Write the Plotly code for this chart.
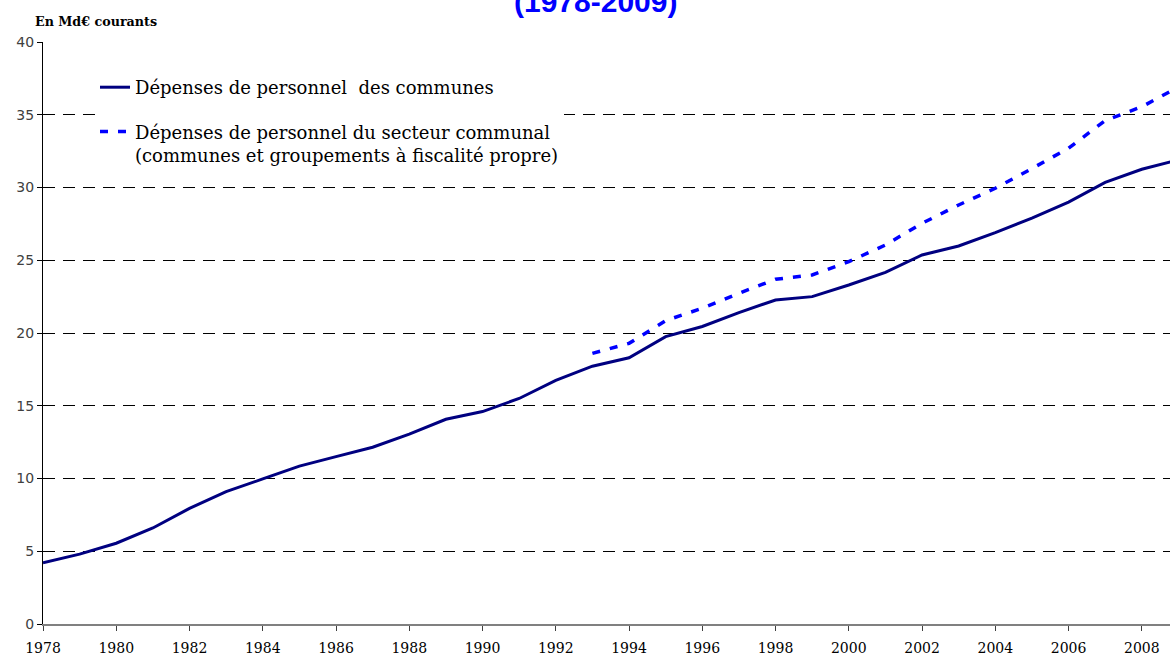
import plotly.graph_objects as go

years = list(range(1978, 2010))
communes = [4.2, 4.8, 5.55, 6.6, 7.95, 9.1, 9.97, 10.85, 11.5, 12.15, 13.05, 14.07,
            14.6, 15.5, 16.75, 17.72, 18.3, 19.75, 20.45, 21.4, 22.27, 22.5, 23.3,
            24.17, 25.36, 25.98, 26.9, 27.9, 29.0, 30.35, 31.25, 31.9]
years_sc = list(range(1993, 2010))
secteur = [18.6, 19.29, 20.85, 21.7, 22.73, 23.69, 23.99, 24.9, 26.05, 27.54, 28.8,
           29.95, 31.3, 32.7, 34.6, 35.55, 36.9]
xticks = list(range(1978, 2009, 2))
yticks = [0, 5, 10, 15, 20, 25, 30, 35, 40]

name1 = "Dépenses de personnel\u00a0 des communes"
name2 = "Dépenses de personnel du secteur communal<br>(communes et groupements à fiscalité propre)"

fig = go.Figure()
fig.add_trace(go.Scatter(x=years, y=communes, mode="lines", name=name1,
                         legendgroup="a",
                         line=dict(color="#000080", width=3)))
fig.add_trace(go.Scatter(x=years_sc, y=secteur, mode="lines", name=name2,
                         legendgroup="b",
                         line=dict(color="#0000FF", width=3.5, dash="8px,10px")))

W, H = 1170, 657
ml, mr, mt, mb = 43, 0, 42, 33
pw = W - ml - mr
ph = H - mt - mb

def px(p):
    return (p - ml) / pw

def py(p):
    return (H - mb - p) / ph

fig.update_layout(
    width=W, height=H,
    margin=dict(l=ml, r=mr, t=mt, b=mb, pad=0, autoexpand=False),
    paper_bgcolor="white", plot_bgcolor="white",
    showlegend=True,
    legend=dict(x=px(95), y=py(69), xanchor="left", yanchor="top",
                bgcolor="white", borderwidth=0, valign="top",
                traceorder="grouped", tracegroupgap=18,
                font=dict(family="DejaVu Serif", size=18, color="black")),
    xaxis=dict(range=[1978, 2008.77], tickmode="array", tickvals=xticks,
               ticktext=[str(t) for t in xticks], automargin=False,
               showgrid=False, zeroline=False,
               showline=True, linecolor="#808080", linewidth=1.5,
               ticks="outside", ticklen=5, tickcolor="#404040",
               ticklabelstandoff=5,
               tickfont=dict(family="DejaVu Serif", size=14, color="black")),
    yaxis=dict(range=[0, 40], tickmode="array", tickvals=yticks, automargin=False,
               showgrid=True, gridcolor="black", gridwidth=1, griddash="12px,8px",
               zeroline=False,
               showline=True, linecolor="black", linewidth=1,
               ticks="outside", ticklen=5, tickcolor="black",
               tickfont=dict(family="DejaVu Sans", size=14, color="#404040")),
    annotations=[
        dict(text="<b>En Md€ courants</b>", xref="paper", yref="paper",
             x=px(33), y=py(22), xanchor="left", yanchor="middle", showarrow=False,
             font=dict(family="DejaVu Serif", size=12.7, color="black")),
        dict(text="<b>(1978-2009)</b>", xref="paper", yref="paper",
             x=px(595), y=py(1), xanchor="center", yanchor="middle", showarrow=False,
             font=dict(family="Liberation Sans", size=30, color="#0000FF")),
    ],
)

fig.write_html("out.html", config={"displayModeBar": False},
               post_script="document.body.style.margin='0px';")
